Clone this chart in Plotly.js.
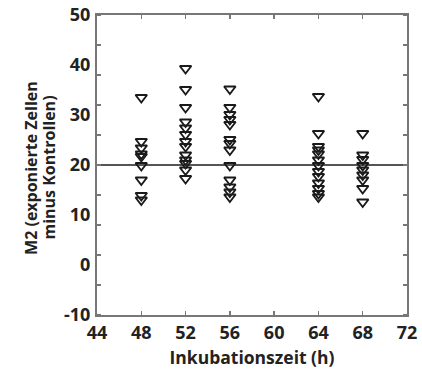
<!DOCTYPE html>
<html>
<head>
<meta charset="utf-8">
<script src="https://cdn.plot.ly/plotly-3.0.1.min.js"></script>
<style>
  html, body { margin: 0; padding: 0; background: #fff; }
  #chart { width: 422px; height: 370px; }
</style>
</head>
<body>
<div id="chart"></div>
<script>
// Inkubationszeit (h) groups
const times = [48, 52, 56, 64, 68];

// M2 values (exponierte Zellen minus Kontrollen) per time point
const m2At48 = [33.5, 24.7, 23.4, 22.2, 21.7, 19.9, 17.0, 13.9, 13.0];
const m2At52 = [39.3, 35.1, 31.5, 28.6, 27.4, 26.1, 24.7, 23.7, 22.0, 21.0, 20.3, 19.0, 17.3];
const m2At56 = [35.2, 31.5, 30.1, 29.1, 28.1, 25.1, 24.3, 23.0, 19.9, 17.0, 15.6, 14.6, 13.6];
const m2At64 = [33.7, 26.3, 23.7, 23.0, 22.2, 21.0, 19.9, 18.7, 17.7, 16.4, 15.3, 14.3, 13.6];
const m2At68 = [26.3, 22.0, 21.1, 19.9, 19.0, 18.0, 17.0, 15.3, 12.6];

// Reference line level and axis extent
const refLevel = 20;
const xRange = [44, 72];
const yRange = [-10, 50];
const xTickVals = [44, 48, 52, 56, 60, 64, 68, 72];
const yTickVals = [-10, 0, 10, 20, 30, 40, 50];
const xTitle = 'Inkubationszeit (h)';
const yTitleLines = ['M2 (exponierte Zellen', 'minus Kontrollen)'];

const groups = [m2At48, m2At52, m2At56, m2At64, m2At68];
const xs = [], ys = [];
groups.forEach((vals, i) => {
  vals.forEach(v => { xs.push(times[i]); ys.push(v); });
});

const traces = [
  {
    x: xRange, y: [refLevel, refLevel],
    mode: 'lines', type: 'scatter',
    line: { color: '#555', width: 2 },
    hoverinfo: 'skip', showlegend: false
  },
  {
    x: xs, y: ys,
    mode: 'markers', type: 'scatter',
    marker: {
      symbol: 'triangle-down-open',
      size: 10,
      color: '#1a1a1a',
      line: { width: 1.9, color: '#1a1a1a' }
    },
    showlegend: false
  }
];

const fontFam = '"Open Sans", "DejaVu Sans", sans-serif';
const tickFont = { size: 18, family: fontFam, weight: 'bold', color: '#222' };
const xTitleFont = { size: 17.5, family: fontFam, weight: 'bold', color: '#222' };
const yTitleFont = { size: 16, family: fontFam, weight: 'bold', color: '#222' };

const layout = {
  width: 422, height: 370,
  margin: { l: 97, r: 15, t: 15, b: 55 },
  paper_bgcolor: '#fff', plot_bgcolor: '#fff',
  font: { family: fontFam, color: '#222' },
  showlegend: false,
  xaxis: {
    range: xRange,
    tickmode: 'array', tickvals: xTickVals, ticktext: xTickVals.map(String),
    ticks: 'inside', ticklen: 4, tickwidth: 1.5, tickcolor: '#777',
    showline: true, linecolor: '#777', linewidth: 2, mirror: 'ticks',
    showgrid: false, zeroline: false,
    tickfont: tickFont,
    title: { text: xTitle, font: xTitleFont, standoff: 9 }
  },
  yaxis: {
    range: yRange,
    tickmode: 'array', tickvals: yTickVals, ticktext: yTickVals.map(String),
    ticks: 'outside', ticklen: 0, ticklabelstandoff: 1,
    minor: { tick0: -10, dtick: 6, ticks: 'inside', ticklen: 4, tickwidth: 1.5, tickcolor: '#777' },
    showline: true, linecolor: '#777', linewidth: 2, mirror: 'ticks',
    showgrid: false, zeroline: false,
    tickfont: tickFont
  },
  annotations: [
    { text: yTitleLines[0], xref: 'paper', yref: 'paper', x: -0.2115, y: 0.4917,
      xanchor: 'center', yanchor: 'middle', textangle: -90, showarrow: false, font: yTitleFont },
    { text: yTitleLines[1], xref: 'paper', yref: 'paper', x: -0.1548, y: 0.4917,
      xanchor: 'center', yanchor: 'middle', textangle: -90, showarrow: false, font: yTitleFont }
  ]
};

Plotly.newPlot('chart', traces, layout, { displayModeBar: false, staticPlot: true });
</script>
</body>
</html>
